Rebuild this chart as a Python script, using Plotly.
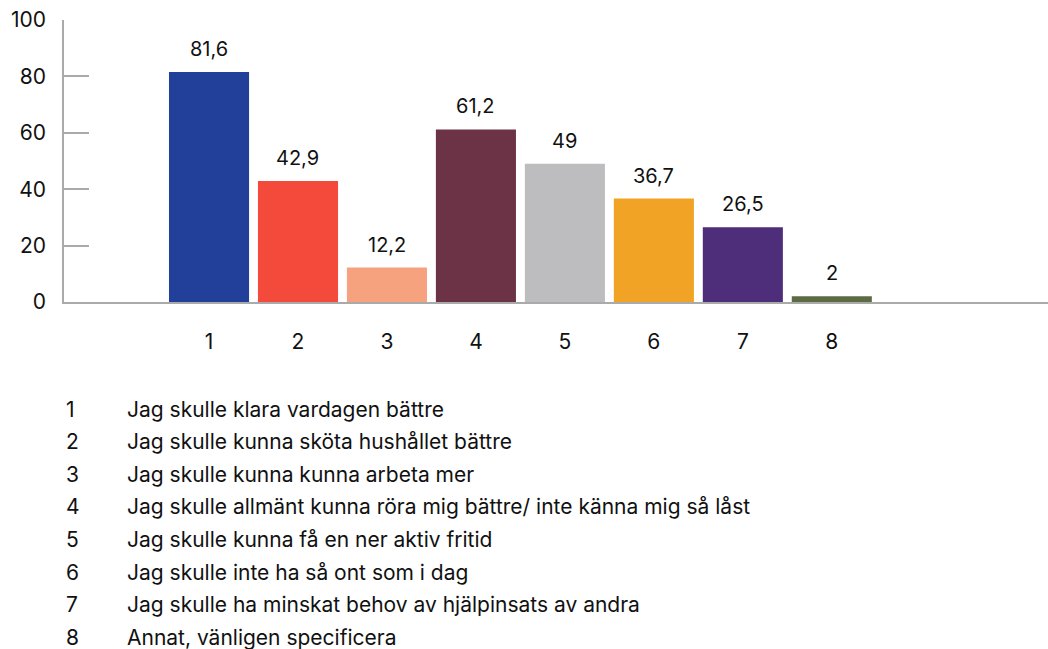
import plotly.graph_objects as go

categories = ["1", "2", "3", "4", "5", "6", "7", "8"]
values = [81.6, 42.9, 12.2, 61.2, 49, 36.7, 26.5, 2]
value_labels = ["81,6", "42,9", "12,2", "61,2", "49", "36,7", "26,5", "2"]
colors = ["#22409A", "#F34A3C", "#F7A27E", "#6C3245", "#BDBDBF", "#F0A325", "#4E2D7B", "#5D6B45"]
descriptions = [
    "Jag skulle klara vardagen bättre",
    "Jag skulle kunna sköta hushållet bättre",
    "Jag skulle kunna kunna arbeta mer",
    "Jag skulle allmänt kunna röra mig bättre/ inte känna mig så låst",
    "Jag skulle kunna få en ner aktiv fritid",
    "Jag skulle inte ha så ont som i dag",
    "Jag skulle ha minskat behov av hjälpinsats av andra",
    "Annat, vänligen specificera",
]

FONT = "Inter"
FS = 21
xpos = list(range(1, len(categories) + 1))

fig = go.Figure(go.Bar(
    x=xpos, y=values,
    marker=dict(color=colors, line=dict(width=0)),
    width=0.9,
))

fig.update_layout(
    width=1048, height=649,
    margin=dict(l=64, r=0, t=20, b=347),
    plot_bgcolor="white", paper_bgcolor="white",
    showlegend=False,
    font=dict(family=FONT, size=FS, color="#111"),
)
fig.update_xaxes(
    range=[-0.63, 10.43], tickvals=xpos, ticktext=categories,
    showline=True, linecolor="#AAAAAA", linewidth=1.5,
    ticks="outside", ticklen=20, tickcolor="rgba(0,0,0,0)",
    showgrid=False, zeroline=False, tickfont=dict(size=FS, family=FONT),
)
fig.update_yaxes(
    range=[0, 100], tickvals=[0, 20, 40, 60, 80, 100],
    showline=True, linecolor="#AAAAAA", linewidth=1.5,
    ticks="inside", ticklen=25, tickcolor="#AAAAAA", tickwidth=1.5,
    ticklabelstandoff=12,
    showgrid=False, zeroline=False, tickfont=dict(size=FS, family=FONT),
)

annotations = []
for xv, yv, lab in zip(xpos, values, value_labels):
    annotations.append(dict(x=xv, y=yv, xref="x", yref="y", text=lab, showarrow=False,
                            xanchor="center", yanchor="bottom", yshift=9,
                            font=dict(family=FONT, size=FS - 1, color="#111")))
for i, (c, d) in enumerate(zip(categories, descriptions)):
    py = 409 + i * 32.6
    yp = (302 - py) / 282
    annotations.append(dict(x=0.0, y=yp, xref="paper", yref="paper",
                            text=c, showarrow=False, xanchor="left", yanchor="middle",
                            font=dict(family=FONT, size=FS, color="#111")))
    annotations.append(dict(x=(125 - 64) / 984, y=yp, xref="paper", yref="paper",
                            text=d, showarrow=False, xanchor="left", yanchor="middle",
                            font=dict(family=FONT, size=FS, color="#111")))
fig.update_layout(annotations=annotations)

fig.write_html("out.html")
